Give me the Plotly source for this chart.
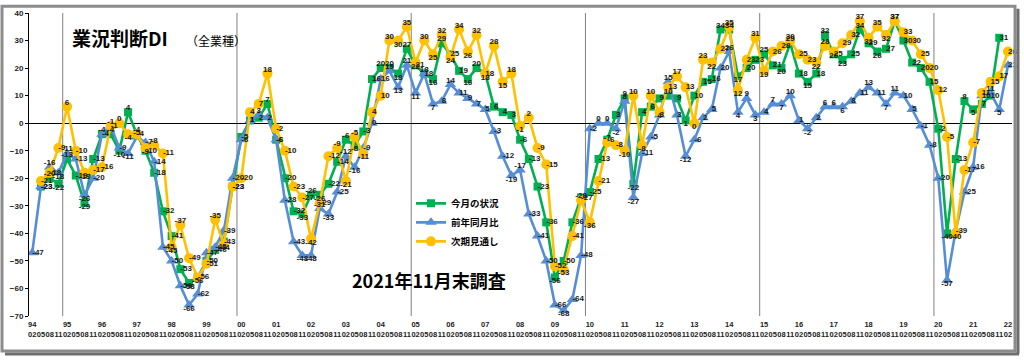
import plotly.graph_objects as go

years = ['94', '95', '96', '97', '98', '99', '00', '01', '02', '03', '04', '05', '06', '07',
         '08', '09', '10', '11', '12', '13', '14', '15', '16', '17', '18', '19', '20', '21', '22']
months = ['02', '05', '08', '11']

# 今月の状況
genkyo = [None, -23, -20, -22, -13, -19, -29, -13, -4, -4, -10, 4, -4, -10, -18, -32,
          -41, -53, -58, -56, -50, -46, -43, -23, -5, 1, 2, 7, -6, -20, -32, -33,
          -26, -26, -22, -14, -6, -8, -3, 16, 20, 20, 18, 27, 21, 18, 16, 29,
          25, 19, 16, 20, 18, 6, 4, 3, -6, -13, -23, -36, -56, -50, -36, -27,
          -25, -13, -6, 3, 9, -22, 4, 6, 9, 10, 9, 1, 10, 15, 16, 34,
          34, 17, 20, 23, 25, 21, 20, 29, 18, 15, 18, 32, 25, 23, 25, 34,
          29, 26, 27, 37, 30, 22, 20, 15, -2, -40, -13, 8, 5, 7, 10, 31, None]

# 前年同月比
zennen = [-47, -23, -16, -18, -11, -13, -26, -20, -4, -1, -9, -11, -5, -7, -14, -45,
          -50, -59, -66, -62, -47, -45, -39, -20, -6, 1, 3, 2, -6, -28, -43, -48,
          -48, -31, -33, -25, -12, -16, -9, 0, 16, 19, 13, 21, 11, 18, 7, 8,
          14, 11, 9, 7, 5, -3, -12, -19, -17, -33, -41, -50, -66, -68, -64, -48,
          -2, 0, 0, -2, 8, -27, -11, -5, 3, 15, 3, -12, -6, 2, 5, 20,
          26, 4, 9, 3, 4, 7, 7, 10, 1, -2, 2, 6, 6, 6, 8, 11,
          13, 11, 7, 11, 10, 5, -1, -8, -20, -57, -39, -25, -16, 10, 11, 5, 21]

# 次期見通し
jiki = [None, -21, -18, -9, 6, -10, -18, -17, -16, -1, 0, -4, -4, -9, -8, -11,
        -45, -37, -49, -56, -51, -35, -44, -23, -20, 4, 7, 18, -2, -10, -23, -27,
        -42, -29, -12, -9, -21, -5, -11, 4, 10, 30, 30, 35, 22, 30, 25, 32,
        24, 34, 26, 32, 18, 28, 15, 18, -1, 2, -9, -15, -52, -53, -41, -28,
        -36, -21, -7, -8, -10, 10, -8, 10, 4, 13, 17, 13, 0, 23, 22, 27,
        35, 12, 23, 31, 19, 26, 28, 30, 25, 23, 22, 28, 26, 29, 32, 37,
        31, 35, 32, 37, 33, 30, 25, 20, 12, -5, -40, -17, -7, 11, 15, 17, 26]

n = len(zennen)
xs = list(range(n))
month_text = [months[i % 4] for i in xs]
year_vals = [i for i in xs if i % 4 == 0]
year_text = [years[i // 4] for i in year_vals]


def label_positions(vals):
    pos = []
    for i, v in enumerate(vals):
        if v is None:
            pos.append('middle right')
            continue
        prev = vals[i - 1] if i > 0 else None
        nxt = vals[i + 1] if i + 1 < len(vals) else None
        if prev is None or nxt is None:
            pos.append('middle right')
        elif v >= prev and v >= nxt:
            pos.append('top center')
        elif v <= prev and v <= nxt:
            pos.append('bottom center')
        else:
            pos.append('middle right')
    return pos


series = [
    ('今月の状況', genkyo, '#00B050', 'square', 8),
    ('前年同月比', zennen, '#558ED5', 'triangle-up', 10),
    ('次期見通し', jiki, '#FFC000', 'circle', 10),
]

fig = go.Figure()
for name, vals, color, sym, msize in series:
    fig.add_trace(go.Scatter(
        x=xs, y=vals, name=name, mode='lines+markers',
        line=dict(color=color, width=2.6),
        marker=dict(symbol=sym, size=msize, color=color),
        connectgaps=False,
    ))

for name, vals, color, sym, msize in series:
    fig.add_trace(go.Scatter(
        x=xs, y=vals, mode='text', showlegend=False,
        text=['' if v is None else str(v) for v in vals],
        textposition=label_positions(vals),
        textfont=dict(size=8, color='#1a1a1a', family='Liberation Sans', weight='bold'),
        cliponaxis=False, hoverinfo='skip',
    ))

# invisible trace that carries the year axis
fig.add_trace(go.Scatter(x=[0], y=[None], xaxis='x2', yaxis='y', showlegend=False,
                         mode='markers', hoverinfo='skip'))

L, W, T, H = 29, 983, 13.3, 302.7


def px(xp):
    return (xp - L) / W


def py(yp):
    return 1 - (yp - T) / H


shapes = []
for k in range(6):
    xv = 3.5 + 20 * k
    shapes.append(dict(type='line', xref='x', yref='paper', x0=xv, x1=xv, y0=0, y1=1,
                       line=dict(color='#808080', width=1), layer='below'))
# outer frame with shadow
shapes.append(dict(type='rect', xref='paper', yref='paper', x0=px(2), x1=px(1015), y0=py(351), y1=py(6.5),
                   line=dict(color='#8c8c8c', width=3)))
shapes.append(dict(type='line', xref='paper', yref='paper', x0=px(1018), x1=px(1018), y0=py(354), y1=py(9),
                   line=dict(color='#6e6e6e', width=3)))
shapes.append(dict(type='line', xref='paper', yref='paper', x0=px(5), x1=px(1019), y0=py(354), y1=py(354),
                   line=dict(color='#6e6e6e', width=3)))

annotations = [
    dict(text='業況判断DI', xref='paper', yref='paper', x=px(70), y=py(38), xanchor='left', yanchor='middle',
         showarrow=False, font=dict(size=19, family='Noto Sans CJK JP', color='black', weight='bold')),
    dict(text='（全業種）', xref='paper', yref='paper', x=px(184), y=py(41), xanchor='left', yanchor='middle',
         showarrow=False, font=dict(size=12, family='Noto Sans CJK JP', color='black')),
    dict(text='2021年11月末調査', xref='paper', yref='paper', x=px(429), y=py(280), xanchor='center',
         yanchor='middle', showarrow=False,
         font=dict(size=18, family='Noto Sans CJK JP', color='black', weight='bold')),
]

tickfont = dict(size=7.5, family='Liberation Sans', color='#222', weight='bold')
xrange = [-0.37, 112.46]

fig.update_layout(
    width=1024, height=362,
    margin=dict(l=L, r=1024 - L - W, t=T, b=362 - T - H, autoexpand=False),
    paper_bgcolor='white', plot_bgcolor='white',
    showlegend=True,
    legend=dict(x=px(411), y=py(189), xanchor='left', yanchor='top',
                font=dict(size=9.5, family='Noto Sans CJK JP', color='black', weight='bold'),
                bgcolor='rgba(0,0,0,0)', tracegroupgap=0),
    xaxis=dict(range=xrange, tickmode='array', tickvals=xs, ticktext=month_text, tickangle=0,
               showgrid=False, zeroline=False, showline=False, ticks='', automargin=False,
               ticklabelstandoff=12, tickfont=tickfont),
    xaxis2=dict(range=xrange, overlaying='x', anchor='y', side='bottom', tickmode='array',
                tickvals=year_vals, ticktext=year_text, tickangle=0, showgrid=False, zeroline=False,
                showline=False, ticks='', automargin=False, ticklabelstandoff=2, tickfont=tickfont),
    yaxis=dict(range=[-70, 40], dtick=10, showgrid=False, zeroline=True, zerolinecolor='black',
               zerolinewidth=1, showline=True, linecolor='black', linewidth=1, ticks='outside',
               ticklen=3, tickcolor='black', automargin=False,
               tickfont=dict(size=8, family='Liberation Sans', color='#222', weight='bold')),
    shapes=shapes, annotations=annotations,
)

fig.write_html('out.html', config={'displayModeBar': False},
               post_script="document.body.style.margin='0px';")
